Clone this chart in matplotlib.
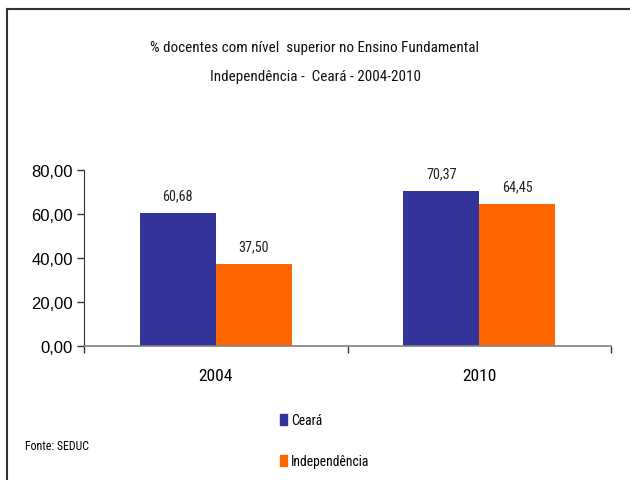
import matplotlib
matplotlib.use("Agg")
import matplotlib.pyplot as plt
from matplotlib.lines import Line2D
from matplotlib.patches import Patch

categories = ["2004", "2010"]
ceara = [60.68, 70.37]
independencia = [37.50, 64.45]
yticks = [0, 20, 40, 60, 80]
ytick_labels = ["0,00", "20,00", "40,00", "60,00", "80,00"]

NARROW = ['Arial Narrow', 'Liberation Sans Narrow', 'Roboto Condensed', 'Archivo Narrow',
          'Liberation Sans', 'DejaVu Sans']
plt.rcParams['font.family'] = ['Liberation Sans', 'DejaVu Sans']

fig = plt.figure(figsize=(6.3, 4.81), dpi=100)
ax = fig.add_axes([84/630, 1-347/481, 527/630, 176/481])

x = list(range(len(categories)))
w = 0.288
blue = "#333399"
orange = "#FF6600"
b1 = ax.bar([i - w/2 for i in x], ceara, width=w, color=blue, label="Ceará")
b2 = ax.bar([i + w/2 for i in x], independencia, width=w, color=orange, label="Independência")

def fmt(v):
    return f"{v:.2f}".replace(".", ",")

for bars, vals in ((b1, ceara), (b2, independencia)):
    for r, v in zip(bars, vals):
        ax.annotate(fmt(v), (r.get_x() + r.get_width()/2, v), xytext=(0, 7.5),
                    textcoords="offset points", ha="center", va="bottom",
                    fontsize=10.2, color="#222222", family=NARROW)

ax.set_xlim(-0.5, 1.5)
ax.set_ylim(0, 80)
ax.set_yticks(yticks)
ax.set_yticklabels(ytick_labels, fontsize=12)
ax.set_xticks(x)
ax.set_xticklabels(categories, fontsize=12.6, family=NARROW)
ax.tick_params(axis='x', length=0, pad=16)
ax.tick_params(axis='y', length=5, width=1, color="#333333", pad=3)
ax.set_xticks([-0.5, 0.5, 1.5], minor=True)
ax.tick_params(axis='x', which='minor', length=5, width=1, color="#333333")
for s in ("top", "right"):
    ax.spines[s].set_visible(False)
ax.spines["left"].set_color("#333333")
ax.spines["bottom"].set_color("#808080")
ax.spines["bottom"].set_linewidth(1.2)

fig.text(0.5, 1-48/481, "% docentes com nível  superior no Ensino Fundamental",
         ha="center", va="center", fontsize=10.9, family=NARROW, color="#111111")
fig.text(0.5, 1-77/481, "Independência -  Ceará - 2004-2010",
         ha="center", va="center", fontsize=10.9, family=NARROW, color="#111111")
fig.text(25/630, 1-446/481, "Fonte: SEDUC", ha="left", va="center", fontsize=8.6,
         family=NARROW)

handles = [Patch(color=blue, label="Ceará"), Patch(color=orange, label="Independência")]
fig.legend(handles=handles, loc="upper left", bbox_to_anchor=(275/630, 1-409/481),
           frameon=False, handlelength=0.5, handleheight=0.85,
           handletextpad=0.3, labelspacing=1.95, borderaxespad=0,
           prop={'family': NARROW, 'size': 9.8})

fig.add_artist(Line2D([7/630, 7/630], [0, 1-10/481], color="#333333", lw=1.5,
                      transform=fig.transFigure))
fig.add_artist(Line2D([7/630, 1], [1-10/481, 1-10/481], color="#333333", lw=1.5,
                      transform=fig.transFigure))

fig.savefig("out.png", dpi=100)
